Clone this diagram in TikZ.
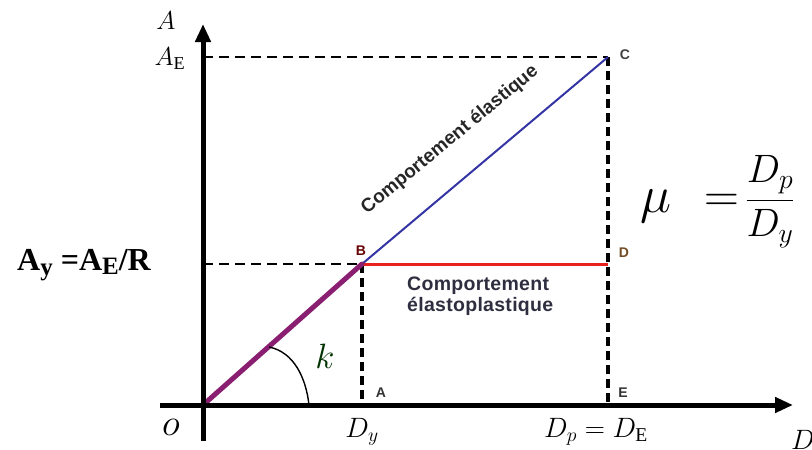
\documentclass[tikz,border=0pt]{standalone}
\usepackage{fix-cm}
\usepackage{graphicx}
\usepackage{fontspec}
\setmainfont{Liberation Serif}
\newfontfamily\labfont{Liberation Sans}
\newfontfamily\labfontw[LetterSpace=1.5]{Liberation Sans}
\usetikzlibrary{arrows.meta}
\definecolor{purp}{HTML}{8A1E70}
\definecolor{bluel}{HTML}{3434A4}
\definecolor{redl}{HTML}{E82020}
\definecolor{txtnavy}{HTML}{2E2E40}
\tikzset{
  axis/.style={line width=5pt,-{Triangle[length=18pt,width=15pt]}},
  guidethin/.style={line width=1.8pt,dash pattern=on 10pt off 6pt},
  guidethick/.style={line width=3.8pt,dash pattern=on 9pt off 5pt},
  pt/.style={font=\labfont\bfseries\fontsize{14}{16}\selectfont,inner sep=0pt},
  mathlab/.style={inner sep=0pt,font=\fontsize{26}{30}\selectfont},
  comment/.style={text=txtnavy,inner sep=0pt},
}
\begin{document}
\begin{tikzpicture}[x=1pt,y=-1pt]
\useasboundingbox (0,0) rectangle (812,450);
% key points
\coordinate (O) at (203,405);
\coordinate (B) at (362,264);
\coordinate (C) at (608,57);
\coordinate (D) at (608,264);
\coordinate (A) at (362,405);
\coordinate (E) at (608,405);
\coordinate (yC) at (203,57);
\coordinate (yB) at (203,264);
\coordinate (ybot) at (203,441);
\coordinate (ytop) at (203,24);
\coordinate (xleft) at (160,405);
\coordinate (xright) at (793,405);
\coordinate (k0) at (309,405);
\coordinate (k1) at (269,347);
% guide lines
\draw[guidethin] (yC) -- (C);
\draw[guidethin] (yB) -- (B);
\draw[guidethick] (B) -- (A);
\draw[guidethick] (C) -- (E);
% behaviour lines
\draw[redl,line width=3pt] (B) -- (D);
\draw[bluel,line width=2pt] (B) -- (C);
\draw[purp,line width=5pt,line cap=round] (O) -- (B);
% axes
\draw[axis] (ybot) -- (ytop);
\draw[axis] (xleft) -- (xright);
% angle k
\draw[line width=1.4pt] (k0) .. controls (306,378) and (294,352) .. (k1);
\node[mathlab,font=\fontsize{32}{36}\selectfont,text=black!80!green] (klab) at (325,356) {\scalebox{1.1}{$k$}};
% point labels
\node[pt,text=red!40!black] (Blab) at (361,251) {B};
\node[pt,text=black!75] (Clab) at (625,55) {C};
\node[pt,text=brown!60!black] (Dlab) at (624,253) {D};
\node[pt,text=black!80] (Alab) at (381,393) {A};
\node[pt,text=black!80] (Elab) at (623,393) {E};
% comments
\node[comment,rotate=39.5,text=black!85,font=\labfont\bfseries\fontsize{19}{22}\selectfont] (elast) at (450,140) {Comportement élastique};
\node[comment,align=left,anchor=north west,font=\labfontw\bfseries\fontsize{19.5}{22}\selectfont] (elastopl) at (407,277) {Comportement\\[-1pt]élastoplastique};
% axis labels
\node[mathlab] (Aaxis) at (166,21) {$A$};
\node[mathlab] (AE) at (170,59) {$A_{\mathrm{E}}$};
\node[inner sep=0pt,font=\bfseries\fontsize{32}{36}\selectfont] (Ay) at (84,265)
  {A\raisebox{-0.3ex}{\fontsize{25}{28}\selectfont y} =A\raisebox{-0.25ex}{\fontsize{25}{28}\selectfont E}/R};
\node[mathlab,font=\fontsize{30}{34}\selectfont] (olab) at (171,427) {\scalebox{1.25}{$o$}};
\node[mathlab,font=\fontsize{28}{32}\selectfont] (Dy) at (362,432) {$D_y$};
\node[mathlab,font=\fontsize{28}{32}\selectfont] (DpDE) at (596,432) {$D_p = D_{\mathrm{E}}$};
\node[mathlab,font=\fontsize{28}{32}\selectfont,anchor=west] (Daxis) at (791,440) {$D$};
% ductility
\node[inner sep=0pt,font=\fontsize{42}{46}\selectfont] (mu) at (656,206) {\scalebox{1.25}{$\mu$}};
\node[inner sep=0pt,font=\fontsize{42}{46}\selectfont] (eq) at (722,203) {\scalebox{1.15}{$=$}};
\node[inner sep=0pt,anchor=west,font=\fontsize{36}{40}\selectfont] (frac) at (745,202) {\scalebox{1.1}{$\displaystyle\frac{D_p}{D_y}$}};
\end{tikzpicture}
\end{document}
